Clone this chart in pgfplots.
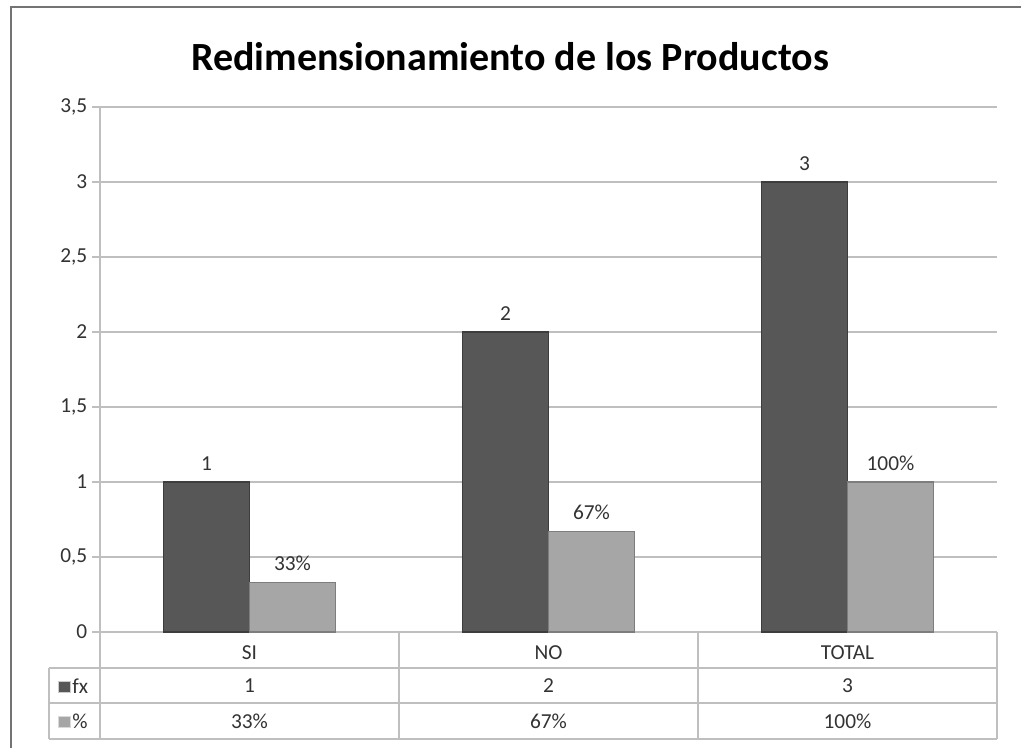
\documentclass[border=0pt]{standalone}
\usepackage{pgfplots}
\pgfplotsset{compat=1.18}
\usepackage{fontspec}
\setmainfont{Carlito}
\definecolor{darkbar}{HTML}{575757}
\definecolor{lightbar}{HTML}{A6A6A6}
\definecolor{gridc}{HTML}{BFBFBF}
\definecolor{txt}{HTML}{333333}
\begin{document}
\begin{tikzpicture}[x=0.75pt,y=0.75pt]
\path[use as bounding box] (0,0) rectangle (1021,747);
\draw[black!55, line width=1.5pt] (11,739.5) rectangle (1060,-43);
\node[font=\bfseries\fontsize{30}{36}\selectfont, text=black] at (510,690) {Redimensionamiento de los Productos};
\begin{axis}[
  at={(75pt,86.25pt)}, anchor=south west,
  scale only axis, width=672.75pt, height=393.75pt,
  xmin=-0.5, xmax=2.5, ymin=0, ymax=3.5,
  ytick={0,0.5,1,1.5,2,2.5,3,3.5},
  xtick={0,1,2}, xticklabels={SI,NO,TOTAL},
  x tick label style={yshift=-1pt},
  ymajorgrids, grid style={gridc, line width=1pt},
  axis x line=bottom, axis y line=left,
  axis line style={gridc, line width=1pt, -},
  major tick length=6pt, tick align=outside,
  xtick style={draw=none}, ytick style={gridc, line width=1pt},
  tick label style={font=\fontsize{16}{18}\selectfont, text=txt},
  /pgf/number format/.cd, fixed, use comma, assume math mode=true,
  /pgfplots/.cd,
  ybar=0pt, bar width=64.5pt,
  nodes near coords, point meta=explicit symbolic,
  every node near coord/.append style={font=\fontsize{16}{18}\selectfont, text=txt, yshift=5pt},
  clip=false,
]
\addplot[fill=darkbar, draw=darkbar!70!black, line width=0.8pt] coordinates {(0,1) [1] (1,2) [2] (2,3) [3]};
\addplot[fill=lightbar, draw=lightbar!75!black, line width=0.8pt] coordinates {(0,0.33) [33\%] (1,0.67) [67\%] (2,1) [100\%]};
\end{axis}
% data table
\begin{scope}[gridc, line width=1pt]
\draw (49,79) -- (997,79);
\draw (49,44) -- (997,44);
\draw (49,8) -- (997,8);
\draw (49,79) -- (49,8);
\draw (100,115) -- (100,8);
\draw (399,115) -- (399,8);
\draw (698,115) -- (698,8);
\draw (997,115) -- (997,8);
\end{scope}
\begin{scope}[font=\fontsize{16}{18}\selectfont, text=txt]
\node at (249.5,61) {1};
\node at (548.5,61) {2};
\node at (847.5,61) {3};
\node at (249.5,26) {33\%};
\node at (548.5,26) {67\%};
\node at (847.5,26) {100\%};
\node[anchor=west, inner sep=0pt] at (72,61) {fx};
\node[anchor=west, inner sep=0pt] at (72,26) {\%};
\end{scope}
\filldraw[fill=darkbar, draw=gray!40] (58,66) rectangle (70,55);
\filldraw[fill=lightbar, draw=gray!30] (58,31) rectangle (70,20);
\end{tikzpicture}
\end{document}
